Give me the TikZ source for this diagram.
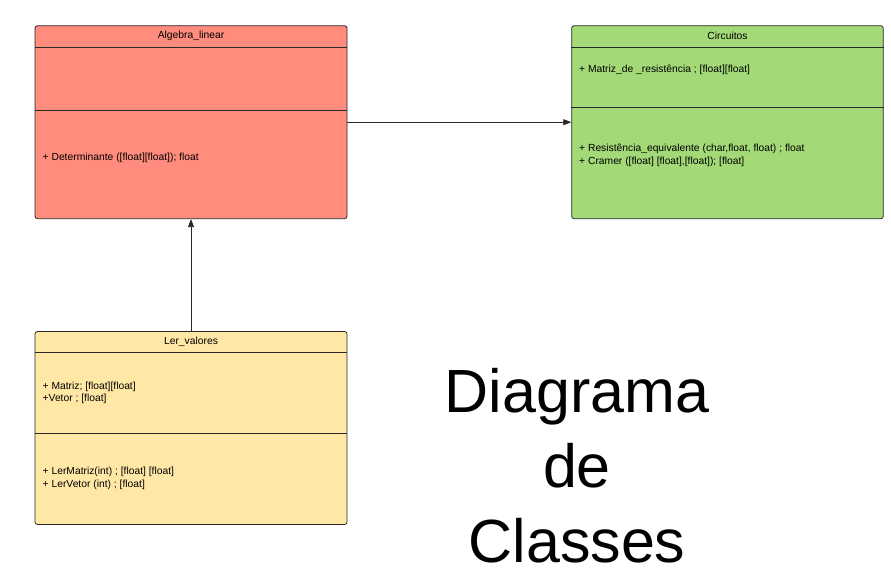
\documentclass[tikz,border=0pt]{standalone}
\usepackage{fontspec}
\setmainfont{Liberation Sans}
\usetikzlibrary{arrows.meta}
\definecolor{algred}{RGB}{255,140,124}
\definecolor{circgreen}{RGB}{163,217,119}
\definecolor{leryellow}{RGB}{255,232,166}
\definecolor{umlline}{RGB}{40,40,40}
\begin{document}
\begin{tikzpicture}[
    x=1pt,y=-1pt,
    classbox/.style={draw=umlline, line width=0.8pt, rounded corners=2.5pt, minimum width=312pt, minimum height=193pt, inner sep=0pt},
    umltext/.style={font=\fontsize{10.3}{12.5}\selectfont, inner sep=0pt, align=left, anchor=west},
    umltitle/.style={font=\fontsize{10.3}{12}\selectfont, inner sep=0pt},
    arrowline/.style={draw=umlline, line width=0.8pt, -{Triangle[length=8pt,width=6pt]}}
    ]
	\useasboundingbox (0,0) rectangle (891,587);
	% classes
	\node [classbox, fill=algred] (algebra) at (191,122.2) {};
	\node [classbox, fill=circgreen, minimum width=311.6pt] (circuitos) at (727.5,122.2) {};
	\node [classbox, fill=leryellow] (lervalores) at (191,428) {};
	% compartments
	\draw [umlline, line width=0.8pt] ([yshift=-21.6pt]algebra.north west) -- ([yshift=-21.6pt]algebra.north east);
	\draw [umlline, line width=0.8pt] ([yshift=-84.6pt]algebra.north west) -- ([yshift=-84.6pt]algebra.north east);
	\draw [umlline, line width=0.8pt] ([yshift=-21.6pt]circuitos.north west) -- ([yshift=-21.6pt]circuitos.north east);
	\draw [umlline, line width=0.8pt] ([yshift=-81.6pt]circuitos.north west) -- ([yshift=-81.6pt]circuitos.north east);
	\draw [umlline, line width=0.8pt] ([yshift=-21.6pt]lervalores.north west) -- ([yshift=-21.6pt]lervalores.north east);
	\draw [umlline, line width=0.8pt] ([yshift=-102.6pt]lervalores.north west) -- ([yshift=-102.6pt]lervalores.north east);
	% texts
	\node [umltitle] (algtitle) at (191,35.5) {Algebra\_linear};
	\node [umltext] (algops) at (42.5,157.5) {+ Determinante ([float][float]); float};
	\node [umltitle] (circtitle) at (727.5,35.5) {Circuitos};
	\node [umltext] (circattr) at (579,70) {+ Matriz\_de \_resistência ; [float][float]};
	\node [umltext] (circops) at (579,155.3) {+ Resistência\_equivalente (char,float, float) ; float\\+ Cramer ([float] [float],[float]); [float]};
	\node [umltitle] (lertitle) at (191,341.5) {Ler\_valores};
	\node [umltext] (lerattr) at (42.5,392.8) {+ Matriz; [float][float]\\+Vetor ; [float]};
	\node [umltext] (lerops) at (42.5,478.3) {+ LerMatriz(int) ; [float] [float]\\+ LerVetor (int) ; [float]};
	% connectors
	\draw [arrowline] (algebra.east) -- (circuitos.west);
	\draw [arrowline] (lervalores.north) -- (algebra.south);
	% caption
	\node [font=\fontsize{61}{75}\selectfont, align=center, inner sep=0pt] (caption) at (577,466) {Diagrama\\de\\Classes};
\end{tikzpicture}
\end{document}
